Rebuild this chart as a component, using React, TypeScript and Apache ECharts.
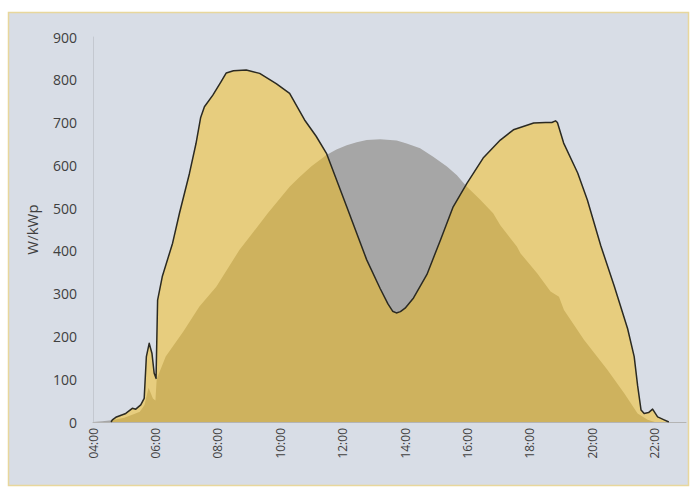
import React, { useEffect, useRef } from 'react';
import * as echarts from 'echarts';

// [hour of day, W/kWp]
const southProfile: [number, number][] = [
  [4.0, 0], [4.3, 2], [4.6, 4], [5.0, 10], [5.3, 18], [5.5, 24], [5.65, 40], [5.78, 80],
  [5.92, 55], [6.0, 50], [6.04, 100], [6.33, 153], [6.9, 212], [7.41, 270], [7.95, 316],
  [8.69, 402], [9.02, 433], [9.6, 488], [10.3, 550], [10.62, 573], [11.0, 598], [11.48, 624],
  [11.8, 637], [12.13, 647], [12.45, 654], [12.77, 659], [13.2, 661], [13.73, 658],
  [14.05, 651], [14.48, 640], [14.9, 620], [15.34, 597], [15.66, 577], [15.86, 560],
  [15.98, 550], [16.4, 520], [16.82, 488], [17.05, 460], [17.58, 410], [17.7, 394],
  [18.23, 348], [18.66, 305], [18.93, 293], [19.09, 262], [19.73, 192], [20.48, 122],
  [21.02, 67], [21.45, 20], [21.77, 5], [22.0, 0],
];

const eastWestProfile: [number, number][] = [
  [4.58, 0], [4.62, 5], [4.73, 11], [5.05, 20], [5.26, 32], [5.37, 30], [5.53, 40],
  [5.64, 55], [5.71, 153], [5.8, 184], [5.89, 160], [5.96, 114], [6.02, 102], [6.07, 285],
  [6.22, 340], [6.55, 418], [6.77, 488], [7.09, 581], [7.3, 651], [7.45, 712], [7.57, 737],
  [7.84, 764], [8.1, 795], [8.27, 816], [8.5, 821], [8.91, 823], [9.34, 815], [9.87, 791],
  [10.3, 768], [10.78, 706], [11.15, 668], [11.48, 628], [12.13, 503], [12.77, 379],
  [13.2, 312], [13.45, 276], [13.6, 259], [13.72, 255], [13.85, 258], [14.0, 266],
  [14.27, 290], [14.7, 345], [15.13, 425], [15.54, 503], [15.98, 558], [16.5, 617],
  [17.05, 659], [17.47, 683], [18.12, 699], [18.5, 700], [18.7, 700], [18.82, 704],
  [18.88, 700], [19.08, 652], [19.53, 582], [19.84, 519], [20.27, 412], [20.7, 318],
  [21.13, 218], [21.34, 153], [21.45, 85], [21.56, 28], [21.66, 20], [21.8, 22],
  [21.93, 30], [22.09, 12], [22.3, 5], [22.45, 0],
];

const yTicks = { min: 0, max: 900, interval: 100 };
const xTicks = { min: 4, max: 23, interval: 2 };

const textColor = '#404040';
const font = '"Open Sans", sans-serif';

const App = () => {
  const chartRef = useRef<HTMLDivElement>(null);

  useEffect(() => {
    const chart = echarts.init(chartRef.current, undefined, { renderer: 'svg' });

    chart.setOption({
      animation: false,
      backgroundColor: '#ffffff',
      textStyle: { fontFamily: font },
      graphic: [
        {
          type: 'rect',
          z: -10,
          silent: true,
          shape: { x: 8.5, y: 12.5, width: 680, height: 473 },
          style: { fill: '#D8DDE6', stroke: '#E8D79C', lineWidth: 1.5 },
        },
      ],
      grid: { left: 93, right: 14, top: 37, bottom: 75 },
      xAxis: {
        type: 'value',
        min: xTicks.min,
        max: xTicks.max,
        interval: xTicks.interval,
        splitLine: { show: false },
        axisTick: { show: false },
        axisLine: { lineStyle: { color: '#B4B4B4', width: 1 } },
        axisLabel: {
          rotate: 90,
          margin: 6,
          color: textColor,
          fontSize: 12,
          fontFamily: font,
          formatter: (v: number) =>
            v % 2 === 0 ? `${String(v).padStart(2, '0')}:00` : '',
        },
      },
      yAxis: {
        type: 'value',
        min: yTicks.min,
        max: yTicks.max,
        interval: yTicks.interval,
        name: 'W/kWp',
        nameLocation: 'middle',
        nameGap: 54,
        nameTextStyle: { color: textColor, fontSize: 15, fontFamily: font },
        splitLine: { show: false },
        axisTick: { show: false },
        axisLine: { show: true, lineStyle: { color: '#C4C8D0', width: 1 } },
        axisLabel: { color: textColor, fontSize: 14, margin: 16, fontFamily: font },
      },
      series: [
        {
          name: 'South',
          type: 'line',
          data: southProfile,
          showSymbol: false,
          smooth: false,
          lineStyle: { width: 0, color: '#A6A6A6' },
          areaStyle: { color: '#A6A6A6', opacity: 1 },
          z: 2,
        },
        {
          name: 'East-West',
          type: 'line',
          data: eastWestProfile,
          showSymbol: false,
          smooth: false,
          lineStyle: { width: 1.5, color: '#2B2A22', join: 'round' },
          areaStyle: { color: 'rgb(245,190,22)', opacity: 0.5 },
          z: 3,
        },
      ],
    });

    return () => {
      chart.dispose();
    };
  }, []);

  return (
    <div
      ref={chartRef}
      style={{ position: 'fixed', left: 0, top: 0, width: '700px', height: '497px' }}
    />
  );
};

export default App;
